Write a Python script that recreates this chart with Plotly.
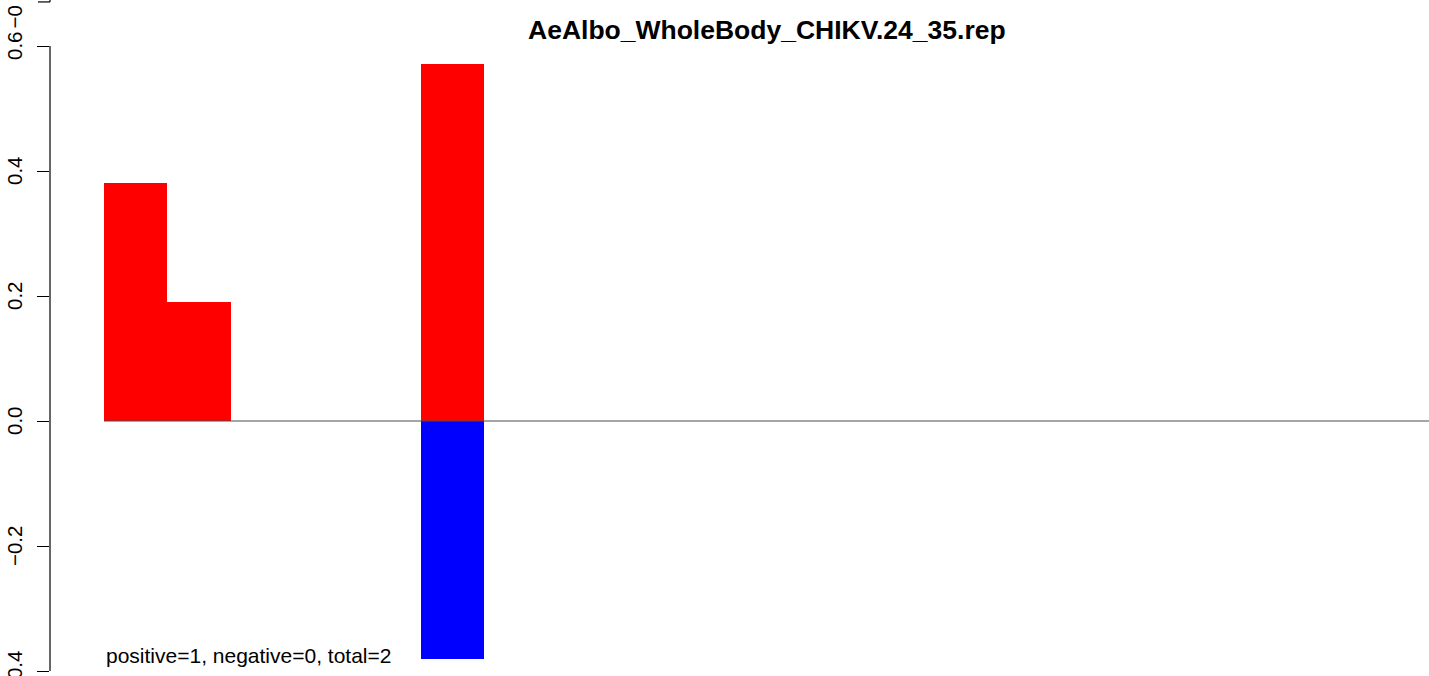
import plotly.graph_objects as go

# ---- data ----
title_text = "AeAlbo_WholeBody_CHIKV.24_35.rep"
pos_x = [0.5, 1.5, 5.5]
pos_y = [0.381, 0.190, 0.571]
neg_x = [5.5]
neg_y = [-0.381]
zero_x = [0, 21]
zero_y = [0, 0]
tick_vals = [-0.4, -0.2, 0.0, 0.2, 0.4, 0.6]
tick_text = ["\u22120.4", "\u22120.2", "0.0", "0.2", "0.4", "0.6"]
note_text = "positive=1, negative=0, total=2"
ghost_label = "\u22120"
ghost_tick_y = 0.6705

W, H = 1429, 676
L = 50
plot_w = W - L
y_range = [-0.408, 0.6736]
x_range = [-0.852, 20.9]

fig = go.Figure()
fig.add_trace(go.Bar(x=pos_x, y=pos_y, width=1, marker=dict(color="#FF0000", line=dict(width=0)),
                     showlegend=False, hoverinfo="skip"))
fig.add_trace(go.Bar(x=neg_x, y=neg_y, width=1, marker=dict(color="#0000FF", line=dict(width=0)),
                     showlegend=False, hoverinfo="skip"))
fig.add_trace(go.Scatter(x=zero_x, y=zero_y, mode="lines", line=dict(color="#4d4d4d", width=1.2),
                         showlegend=False, hoverinfo="skip"))

font_family = "Liberation Sans, Arial, Helvetica, sans-serif"
lab_x = (14 - L) / plot_w

annotations = []
for v, t in zip(tick_vals, tick_text):
    annotations.append(dict(x=lab_x, xref="paper", y=v, yref="y", text=t, textangle=-90,
                            showarrow=False, xanchor="center", yanchor="middle",
                            font=dict(family=font_family, size=20.5, color="black")))
annotations.append(dict(x=lab_x, xref="paper", y=ghost_tick_y, yref="y", text=ghost_label,
                        textangle=-90, showarrow=False, xanchor="center", yanchor="top",
                        yshift=-2,
                        font=dict(family=font_family, size=20.5, color="black")))
annotations.append(dict(x=0, xref="x", y=-0.375, yref="y", text=note_text, showarrow=False,
                        xanchor="left", yanchor="middle",
                        font=dict(family=font_family, size=21, color="black")))
annotations.append(dict(x=(767 - L) / plot_w, xref="paper", y=1 - 30 / H, yref="paper",
                        text="<b>" + title_text + "</b>",
                        showarrow=False, xanchor="center", yanchor="middle",
                        font=dict(family=font_family, size=26.5, color="black")))

shapes = [
    dict(type="line", xref="paper", yref="y", x0=0, x1=0, y0=min(tick_vals), y1=max(tick_vals),
         line=dict(color="black", width=1.2)),
    dict(type="line", xref="paper", yref="y", x0=0, x1=0, y0=ghost_tick_y, y1=y_range[1],
         line=dict(color="black", width=1.2)),
    dict(type="line", xref="paper", yref="y", x0=-12 / plot_w, x1=0, y0=ghost_tick_y, y1=ghost_tick_y,
         line=dict(color="black", width=1.2)),
]

fig.update_layout(
    width=W, height=H,
    margin=dict(l=L, r=0, t=0, b=0),
    paper_bgcolor="white", plot_bgcolor="white",
    barmode="overlay",
    bargap=0,
    xaxis=dict(range=x_range, visible=False, showgrid=False, zeroline=False),
    yaxis=dict(range=y_range, showgrid=False, zeroline=False, showline=False,
               tickvals=tick_vals, showticklabels=False, ticks="outside", ticklen=12,
               tickwidth=1.2, tickcolor="black"),
    annotations=annotations,
    shapes=shapes,
    font=dict(family=font_family),
)

fig.write_html("out.html", config={"displayModeBar": False},
               post_script="document.body.style.margin='0';document.body.style.overflow='hidden';")
